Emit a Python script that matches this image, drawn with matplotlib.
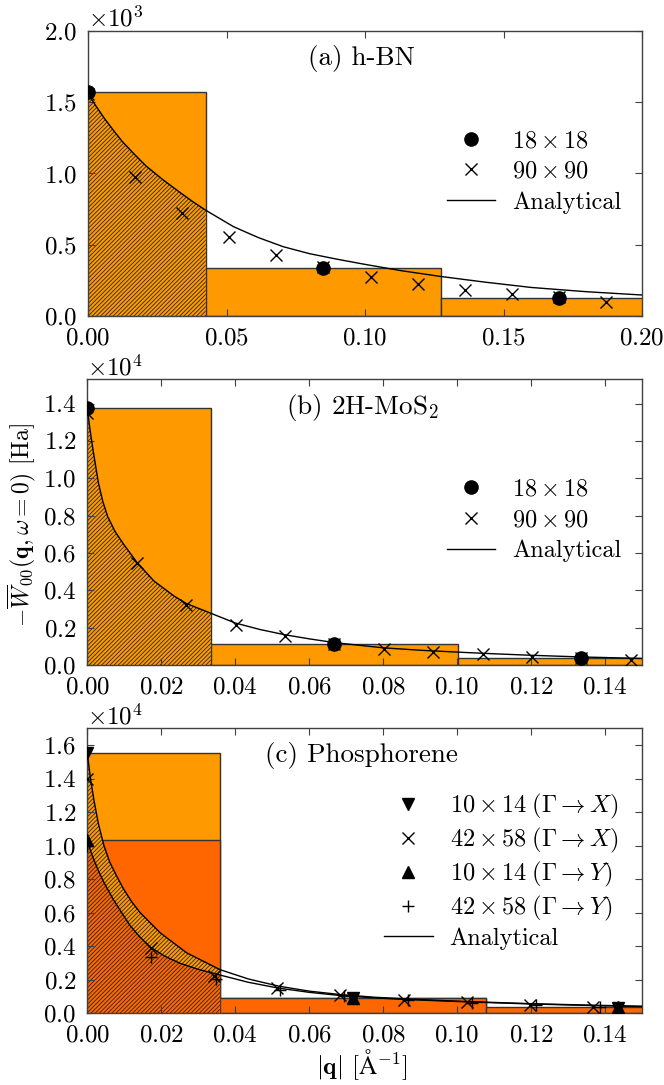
# Screened interaction W_00(q, w=0) for three 2D materials
import matplotlib
matplotlib.use("Agg")
import matplotlib.pyplot as plt
import numpy as np

plt.rcParams["font.family"] = ["serif"]
plt.rcParams["font.serif"] = ["cmr10"]
plt.rcParams["mathtext.fontset"] = "cm"
plt.rcParams["axes.formatter.use_mathtext"] = True
plt.rcParams["axes.unicode_minus"] = False
plt.rcParams["hatch.color"] = "0.15"
plt.rcParams["hatch.linewidth"] = 0.6

LIGHT = "#FF9900"
DARK = "#FF6600"
EDGE = "0.2"

# ---- (a) h-BN ----
a_q_coarse = [0.0, 0.085, 0.17]
a_w_coarse = [1570, 340, 128]
a_bar_width = 0.085
a_q_fine = [0.0, 0.017, 0.034, 0.051, 0.068, 0.085, 0.102, 0.119, 0.136, 0.153, 0.17, 0.187]
a_w_fine = [1560, 978, 722, 552, 428, 345, 276, 225, 182, 154, 130, 100]
a_q_curve = [0.0, 0.0005, 0.003, 0.006, 0.0091, 0.0125, 0.0164, 0.021, 0.0272, 0.033,
             0.038, 0.0425, 0.0525, 0.0615, 0.0705, 0.08, 0.09, 0.1, 0.113, 0.127,
             0.143, 0.16, 0.18, 0.2]
a_w_curve = [1570, 1545, 1470, 1385, 1305, 1222, 1142, 1052, 954, 870,
             800, 742, 627, 550, 486, 437, 398, 362, 318, 278,
             238, 200, 170, 147]

# ---- (b) 2H-MoS2 ----
b_q_coarse = [0.0, 0.0668, 0.1336]
b_w_coarse = [13750, 1130, 380]
b_bar_width = 0.0668
b_q_fine = [0.0, 0.01336, 0.02672, 0.04008, 0.05344, 0.0668, 0.08016, 0.09352,
            0.10688, 0.12024, 0.1336, 0.14696]
b_w_fine = [13500, 5450, 3200, 2120, 1560, 1130, 860, 710, 590, 450, 380, 290]
b_q_curve = [0.0, 0.0008, 0.0016, 0.003, 0.0042, 0.0055, 0.0075, 0.0097, 0.0134, 0.018,
             0.0234, 0.0267, 0.0334, 0.04, 0.0467, 0.0534, 0.06, 0.0668, 0.08, 0.09,
             0.1, 0.11, 0.12, 0.1336, 0.15]
b_w_curve = [13700, 12500, 11450, 9750, 8750, 7950, 7150, 6500, 5500, 4500,
             3700, 3300, 2770, 2250, 1900, 1620, 1400, 1200, 920, 790,
             690, 600, 520, 430, 350]

# ---- (c) Phosphorene ----
c_q_coarse = [0.0, 0.0718, 0.1436]
c_wx_coarse = [15500, 900, 330]
c_wy_coarse = [10330, 930, 350]
c_bar_width = 0.0718
c_qx_fine = [0.0, 0.0171, 0.0342, 0.0513, 0.0684, 0.0855, 0.1026, 0.1197, 0.1368]
c_wx_fine = [14000, 3900, 2250, 1500, 1080, 820, 650, 500, 400]
c_qy_fine = [0.0, 0.01733, 0.03466, 0.052, 0.0693, 0.0867, 0.104, 0.1213, 0.1387]
c_wy_fine = [10000, 3380, 2050, 1400, 1020, 780, 620, 480, 380]
c_qx_curve = [0.0, 0.0008, 0.0018, 0.003, 0.0045, 0.0061, 0.0079, 0.0097, 0.012, 0.0143,
              0.0197, 0.0269, 0.0359, 0.0435, 0.0517, 0.06, 0.0683, 0.0775, 0.0864,
              0.1026, 0.1206, 0.137, 0.15]
c_wx_curve = [15500, 14100, 12700, 11300, 10000, 9000, 8200, 7450, 6650, 6000,
              4800, 3600, 2600, 2050, 1620, 1320, 1120, 960, 850,
              700, 570, 480, 420]
c_qy_curve = [0.0, 0.0008, 0.0016, 0.003, 0.0045, 0.007, 0.009, 0.0115, 0.014, 0.017,
              0.021, 0.0251, 0.03, 0.0359, 0.0435, 0.0517, 0.06, 0.0683, 0.0775, 0.0864,
              0.1026, 0.1206, 0.137, 0.15]
c_wy_curve = [10330, 9750, 9250, 8500, 7800, 6800, 6100, 5250, 4600, 3950,
              3400, 2980, 2620, 2280, 1850, 1500, 1250, 1060, 920, 820,
              680, 550, 460, 400]

TICK_FS = 18
LEG_FS = 17.5
TITLE_FS = 19.5


def style_axis(ax):
    for s in ax.spines.values():
        s.set_color("0.25")
        s.set_linewidth(1.0)
    ax.tick_params(direction="in", top=True, right=True, length=5, width=0.8,
                   labelsize=TICK_FS, color="0.25")
    ax.tick_params(axis="x", pad=8)
    ax.tick_params(axis="y", pad=8)
    ax.ticklabel_format(axis="y", style="sci", scilimits=(0, 0))
    ax.yaxis.get_offset_text().set_fontsize(TICK_FS)


def hatched(ax, q, w, edge, color):
    q = np.array(q)
    w = np.array(w)
    m = q <= edge + 1e-9
    ax.fill_between(q[m], 0, w[m], facecolor=color, edgecolor="0.15",
                    hatch="////////", linewidth=0, zorder=1.5)


def add_legend(ax, anchor, spacing):
    ax.legend(loc="center right", bbox_to_anchor=anchor, frameon=False,
              fontsize=LEG_FS, borderaxespad=0, borderpad=0, handlelength=2.0,
              handletextpad=0.7, labelspacing=spacing)


fig = plt.figure(figsize=(6.64, 10.85), dpi=100)
ax_a = fig.add_axes([0.1325, 0.7088, 0.8345, 0.2626])
ax_b = fig.add_axes([0.1315, 0.3871, 0.8355, 0.2633])
ax_c = fig.add_axes([0.1315, 0.0661, 0.8355, 0.2627])

# (a)
ax_a.bar(a_q_coarse, a_w_coarse, width=a_bar_width, color=LIGHT, edgecolor=EDGE,
         linewidth=1.0, zorder=1)
hatched(ax_a, a_q_curve, a_w_curve, a_bar_width / 2, LIGHT)
ax_a.plot(a_q_coarse, a_w_coarse, "o", color="k", ms=9.5, label=r"$18\times18$", zorder=4)
ax_a.plot(a_q_fine, a_w_fine, "x", color="k", ms=9, mew=1.0, label=r"$90\times90$", zorder=4)
ax_a.plot(a_q_curve, a_w_curve, "-", color="k", lw=1.0, label="Analytical", zorder=3)
ax_a.set_xlim(0, 0.2)
ax_a.set_ylim(0, 2000)
ax_a.set_xticks([0, 0.05, 0.10, 0.15, 0.20])
ax_a.set_yticks([0, 500, 1000, 1500, 2000])
style_axis(ax_a)
ax_a.text(0.494, 0.905, "(a) h-BN", transform=ax_a.transAxes, ha="center", va="center",
          fontsize=TITLE_FS)
add_legend(ax_a, (0.963, 0.505), 0.35)

# (b)
ax_b.bar(b_q_coarse, b_w_coarse, width=b_bar_width, color=LIGHT, edgecolor=EDGE,
         linewidth=1.0, zorder=1)
hatched(ax_b, b_q_curve, b_w_curve, b_bar_width / 2, LIGHT)
ax_b.plot(b_q_coarse, b_w_coarse, "o", color="k", ms=9.5, label=r"$18\times18$", zorder=4)
ax_b.plot(b_q_fine, b_w_fine, "x", color="k", ms=9, mew=1.0, label=r"$90\times90$", zorder=4)
ax_b.plot(b_q_curve, b_w_curve, "-", color="k", lw=1.0, label="Analytical", zorder=3)
ax_b.set_xlim(0, 0.15)
ax_b.set_ylim(0, 15300)
ax_b.set_xticks(np.arange(0, 0.141, 0.02))
ax_b.set_yticks(np.arange(0, 14001, 2000))
style_axis(ax_b)
ax_b.text(0.496, 0.90, r"(b) 2H-MoS$_2$", transform=ax_b.transAxes, ha="center",
          va="center", fontsize=TITLE_FS)
add_legend(ax_b, (0.963, 0.506), 0.35)

# (c)
ax_c.bar(c_q_coarse, c_wx_coarse, width=c_bar_width, color=LIGHT, edgecolor=EDGE,
         linewidth=1.0, zorder=1)
ax_c.bar(c_q_coarse, c_wy_coarse, width=c_bar_width, color=DARK, edgecolor=EDGE,
         linewidth=1.0, zorder=1.1)
hatched(ax_c, c_qx_curve, c_wx_curve, c_bar_width / 2, LIGHT)
hatched(ax_c, c_qy_curve, c_wy_curve, c_bar_width / 2, DARK)
ax_c.plot(c_q_coarse, c_wx_coarse, "v", color="k", ms=9,
          label=r"$10\times14\;(\Gamma\rightarrow X)$", zorder=4)
ax_c.plot(c_qx_fine, c_wx_fine, "x", color="k", ms=9, mew=1.0,
          label=r"$42\times58\;(\Gamma\rightarrow X)$", zorder=4)
ax_c.plot(c_q_coarse, c_wy_coarse, "^", color="k", ms=9,
          label=r"$10\times14\;(\Gamma\rightarrow Y)$", zorder=4)
ax_c.plot(c_qy_fine, c_wy_fine, "+", color="k", ms=9, mew=1.0,
          label=r"$42\times58\;(\Gamma\rightarrow Y)$", zorder=4)
ax_c.plot(c_qx_curve, c_wx_curve, "-", color="k", lw=1.0, label="Analytical", zorder=3)
ax_c.plot(c_qy_curve, c_wy_curve, "-", color="k", lw=1.0, zorder=3)
ax_c.set_xlim(0, 0.15)
ax_c.set_ylim(0, 17000)
ax_c.set_xticks(np.arange(0, 0.141, 0.02))
ax_c.set_yticks(np.arange(0, 16001, 2000))
style_axis(ax_c)
ax_c.text(0.494, 0.906, "(c) Phosphorene", transform=ax_c.transAxes, ha="center",
          va="center", fontsize=TITLE_FS)
add_legend(ax_c, (0.957, 0.50), 0.2)

fig.text(0.033, 0.516, r"$-\overline{W}_{\mathbf{00}}(\mathbf{q},\omega=0)$ [Ha]",
         rotation=90, ha="center", va="center", fontsize=17)
fig.text(0.545, 0.003, r"$|\mathbf{q}|$ [$\mathrm{\AA}^{-1}$]", ha="center",
         va="bottom", fontsize=18)

fig.savefig("out.png", dpi=100)
